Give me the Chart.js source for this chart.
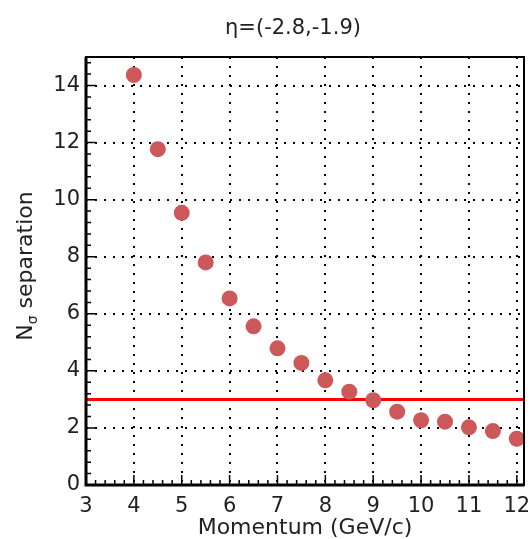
<!DOCTYPE html>
<html>
<head>
<meta charset="utf-8">
<script src="https://cdn.jsdelivr.net/npm/chart.js@4"></script>
<style>
  html, body { margin: 0; padding: 0; background: #fff; }
  #wrap { width: 532px; height: 539px; }
</style>
</head>
<body>
<div id="wrap"><canvas id="grafico" width="532" height="539"></canvas></div>
<script>
// dados
const momentum = [4, 4.5, 5, 5.5, 6, 6.5, 7, 7.5, 8, 8.5, 9, 9.5, 10, 10.5, 11, 11.5, 12];
const nSigma = [14.37, 11.77, 9.54, 7.8, 6.54, 5.56, 4.79, 4.28, 3.67, 3.27, 2.97, 2.57, 2.27, 2.22, 2.02, 1.89, 1.62];
const limiar = 3;
const xTicks = [3, 4, 5, 6, 7, 8, 9, 10, 11, 12];
const yTicks = [0, 2, 4, 6, 8, 10, 12, 14];

const xMin = 3, xMax = 12.15, yMin = 0, yMax = 15;
const fonte = '"DejaVu Sans", sans-serif';

// moldura, ticks internos, título e rótulo do eixo y
const rootStyle = {
    id: 'rootStyle',
    afterDraw(chart) {
        const ctx = chart.ctx;
        const area = chart.chartArea;
        const xs = chart.scales.x, ys = chart.scales.y;
        ctx.save();
        ctx.strokeStyle = '#000';
        ctx.lineWidth = 1.5;
        ctx.beginPath();
        // x ticks
        for (let v = xMin; v <= xMax + 1e-9; v += 0.2) {
            const px = xs.getPixelForValue(v);
            const major = Math.abs(v - Math.round(v)) < 1e-6;
            const len = major ? 10 : 5;
            ctx.moveTo(px, area.bottom);
            ctx.lineTo(px, area.bottom - len);
        }
        // y ticks
        for (let v = yMin; v <= yMax + 1e-9; v += 0.4) {
            const py = ys.getPixelForValue(v);
            const major = Math.abs(v / 2 - Math.round(v / 2)) < 1e-6;
            const len = major ? 10 : 5;
            ctx.moveTo(area.left, py);
            ctx.lineTo(area.left + len, py);
        }
        ctx.stroke();
        // moldura
        ctx.lineWidth = 2;
        ctx.strokeRect(area.left, area.top, area.right - area.left, area.bottom - area.top);
        ctx.lineWidth = 3;
        ctx.beginPath();
        ctx.moveTo(area.left, area.top);
        ctx.lineTo(area.left, area.bottom);
        ctx.lineTo(area.right, area.bottom);
        ctx.stroke();

        // título
        ctx.fillStyle = '#222';
        ctx.font = '21px ' + fonte;
        ctx.textAlign = 'center';
        ctx.textBaseline = 'alphabetic';
        ctx.fillText('η=(-2.8,-1.9)', 293, 34);

        // rótulo y: N com sigma subscrito
        ctx.translate(32, 266);
        ctx.rotate(-Math.PI / 2);
        const big = '22px ' + fonte, small = '14px ' + fonte;
        ctx.font = big;
        const wN = ctx.measureText('N').width;
        const wRest = ctx.measureText(' separation').width;
        ctx.font = small;
        const wS = ctx.measureText('σ').width;
        let x0 = -(wN + wS + wRest) / 2;
        ctx.textAlign = 'left';
        ctx.font = big;
        ctx.fillText('N', x0, 0);
        ctx.font = small;
        ctx.fillText('σ', x0 + wN, 5);
        ctx.font = big;
        ctx.fillText(' separation', x0 + wN + wS, 0);
        ctx.restore();
    }
};

function createChart() {
    const ctx = document.getElementById('grafico').getContext('2d');
    new Chart(ctx, {
        data: {
            datasets: [{
                type: 'scatter',
                label: 'N sigma',
                data: momentum.map((m, i) => ({ x: m, y: nSigma[i] })),
                backgroundColor: 'rgb(205, 88, 90)',
                borderWidth: 0,
                pointRadius: 8,
                order: 1
            }, {
                type: 'line',
                label: 'limiar',
                data: [{ x: xMin, y: limiar }, { x: xMax, y: limiar }],
                borderColor: 'rgb(255, 0, 0)',
                borderWidth: 3,
                pointRadius: 0,
                order: 2
            }]
        },
        options: {
            responsive: false,
            animation: false,
            layout: { padding: { left: 0, top: 57, right: 7, bottom: 0 } },
            plugins: {
                legend: { display: false },
                tooltip: { enabled: false }
            },
            scales: {
                x: {
                    type: 'linear',
                    min: xMin,
                    max: xMax,
                    afterBuildTicks: s => { s.ticks = xTicks.map(v => ({ value: v })); },
                    afterFit: s => { s.height = 54; s.paddingLeft = 0; s.paddingRight = 0; },
                    ticks: {
                        font: { size: 21, family: fonte, lineHeight: 1 },
                        color: '#222',
                        padding: 11,
                        maxRotation: 0
                    },
                    grid: { color: '#000', lineWidth: 2, drawTicks: false },
                    border: { display: false, dash: [2, 7] },
                    title: {
                        display: true,
                        text: 'Momentum (GeV/c)',
                        font: { size: 22, family: fonte, lineHeight: 1 },
                        color: '#222',
                        padding: { top: 0, bottom: 0 }
                    }
                },
                y: {
                    type: 'linear',
                    min: yMin,
                    max: yMax,
                    afterBuildTicks: s => { s.ticks = yTicks.map(v => ({ value: v })); },
                    afterFit: s => { s.width = 86; s.paddingTop = 0; s.paddingBottom = 0; },
                    ticks: {
                        font: { size: 21, family: fonte },
                        color: '#222',
                        padding: 6
                    },
                    grid: { color: '#000', lineWidth: 2, drawTicks: false },
                    border: { display: false, dash: [2, 7] }
                }
            }
        },
        plugins: [rootStyle]
    });
}

document.addEventListener('DOMContentLoaded', createChart);
</script>
</body>
</html>
